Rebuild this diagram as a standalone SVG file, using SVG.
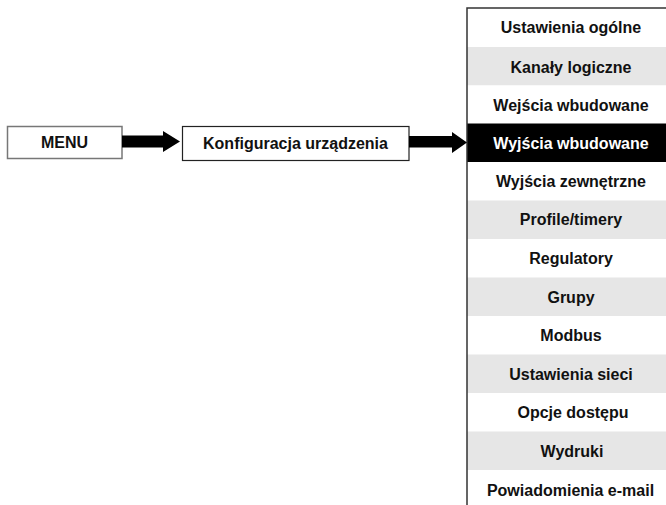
<svg xmlns="http://www.w3.org/2000/svg" width="666" height="505" viewBox="0 0 666 505">
<style>
text{font-family:"Liberation Sans",Arial,sans-serif;font-weight:bold;font-size:16px;text-anchor:middle;fill:#111}
.w{fill:#fff}
.g{fill:#e6e6e6}
.bk{fill:#000}
.box{fill:#fff;stroke:#222;stroke-width:1.2}
.box2{fill:#fff;stroke:#777;stroke-width:1.5}
.frame{stroke:#333;stroke-width:1.5;fill:none}
.arrow{fill:#000}
.inv{fill:#fff}
</style>
<rect width="666" height="505" fill="#fff"/>
<g id="menu">
<rect class="box2" x="7.5" y="126.5" width="114.5" height="32"/>
<text x="64.5" y="148">MENU</text>
</g>
<g id="konfiguracja">
<rect class="box" x="182.5" y="126.5" width="226.5" height="34"/>
<text x="295.5" y="148.5">Konfiguracja urządzenia</text>
</g>
<g id="list">
<g id="r1"><rect class="w" x="467" y="8" width="199" height="38.5"/><text x="571" y="33">Ustawienia ogólne</text></g>
<g id="r2"><rect class="g" x="467" y="47" width="199" height="38.5"/><text x="571" y="72.5">Kanały logiczne</text></g>
<g id="r3"><rect class="w" x="467" y="85.5" width="199" height="38.5"/><text x="571" y="111">Wejścia wbudowane</text></g>
<g id="r4"><rect class="bk" x="467" y="123.5" width="199" height="39"/><text class="inv" x="571" y="148.5">Wyjścia wbudowane</text></g>
<g id="r5"><rect class="w" x="467" y="162" width="199" height="38.5"/><text x="571" y="187">Wyjścia zewnętrzne</text></g>
<g id="r6"><rect class="g" x="467" y="200.5" width="199" height="38.5"/><text x="571" y="225">Profile/timery</text></g>
<g id="r7"><rect class="w" x="467" y="239" width="199" height="38.5"/><text x="571" y="264">Regulatory</text></g>
<g id="r8"><rect class="g" x="467" y="277.5" width="199" height="38.5"/><text x="571" y="302.5">Grupy</text></g>
<g id="r9"><rect class="w" x="467" y="316" width="199" height="38.5"/><text x="571" y="341">Modbus</text></g>
<g id="r10"><rect class="g" x="467" y="354.5" width="199" height="38.5"/><text x="571" y="379.5">Ustawienia sieci</text></g>
<g id="r11"><rect class="w" x="467" y="393" width="199" height="38.5"/><text x="573" y="418">Opcje dostępu</text></g>
<g id="r12"><rect class="g" x="467" y="431.5" width="199" height="38.5"/><text x="572" y="456.5">Wydruki</text></g>
<g id="r13"><rect class="w" x="467" y="470" width="199" height="35"/><text x="570.5" y="496">Powiadomienia e-mail</text></g>
<path class="frame" d="M467,505 V8 H666"/>
</g>
<g id="connectors">
<polygon class="arrow" points="122,135.5 163,135.5 163,131 180,141.5 163,152 163,147.5 122,147.5"/>
<polygon class="arrow" points="409,136 452,136 452,132 467,142.5 452,153 452,147.5 409,147.5"/>
</g>
</svg>
